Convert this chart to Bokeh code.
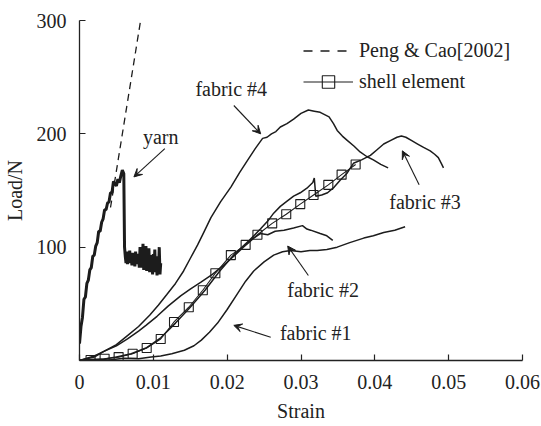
from bokeh.plotting import figure
from bokeh.models import (Range1d, FixedTicker, Legend, LegendItem, Label, Arrow, VeeHead)
from bokeh.embed import file_html
from bokeh.resources import INLINE

# ---------------- data ----------------
x_ticks = [0, 0.01, 0.02, 0.03, 0.04, 0.05, 0.06]
x_tick_labels = ["0", "0.01", "0.02", "0.03", "0.04", "0.05", "0.06"]
y_ticks = [100, 200, 300]
y_tick_labels = ["100", "200", "300"]

peng_strain = [0.0042, 0.0083]
peng_load = [135, 301]

yarn_strain = [0.0000, 0.0002, 0.0004, 0.0006, 0.0008, 0.0010, 0.0012, 0.0014, 0.0016, 0.0018,
               0.0020, 0.0022, 0.0024, 0.0026, 0.0028, 0.0030, 0.0032, 0.0034, 0.0036, 0.0038,
               0.0040, 0.0042, 0.0044, 0.0046, 0.0048, 0.0050, 0.0052, 0.0054, 0.0056, 0.0058,
               0.0060, 0.0061,
               0.0062, 0.0063, 0.0064, 0.0065, 0.0066, 0.0067, 0.0068, 0.0069, 0.0070, 0.0071,
               0.0072, 0.0073, 0.0074, 0.0075, 0.0076, 0.0077, 0.0078, 0.0079, 0.0080, 0.0081,
               0.0082, 0.0083, 0.0084, 0.0085, 0.0086, 0.0087, 0.0088, 0.0089, 0.0090, 0.0091,
               0.0092, 0.0093, 0.0094, 0.0095, 0.0096, 0.0097, 0.0098, 0.0099, 0.0100, 0.0101,
               0.0102, 0.0103, 0.0104, 0.0105, 0.0106, 0.0107, 0.0108, 0.0109, 0.0110]
yarn_load = [15, 30, 38, 54, 56, 68, 71, 80, 82, 92,
             93, 101, 104, 114, 114, 122, 125, 133, 133, 139,
             140, 148, 148, 158, 156, 154, 160, 157, 163, 168,
             165, 100,
             92, 86, 96, 85, 94, 88, 97, 86, 93, 84,
             95, 87, 92, 83, 96, 86, 94, 85, 91, 82,
             100, 82, 98, 85, 103, 80, 97, 84, 101, 79,
             95, 82, 99, 78, 93, 84, 91, 76, 94, 80,
             98, 78, 90, 75, 92, 77, 100, 76, 86]

f1_strain = [0, 0.002, 0.004, 0.006, 0.008, 0.0097, 0.011, 0.0125, 0.0142, 0.0155, 0.0165,
             0.0176, 0.0187, 0.02, 0.0214, 0.0225, 0.0236, 0.025, 0.0263, 0.0275, 0.0286, 0.03,
             0.0312, 0.0322, 0.0335, 0.0349, 0.0366, 0.0385, 0.0398, 0.0412, 0.0427, 0.0441]
f1_load = [0, 1, 0.5, 2, 1.5, 3, 4, 6, 9, 13, 18,
           25, 33, 45, 59, 70, 79, 87, 93, 96, 97, 96,
           97, 97, 98, 100, 104, 108, 110, 113, 115, 118]

f2_strain = [0, 0.002, 0.0033, 0.005, 0.0065, 0.008, 0.009, 0.0105, 0.012, 0.0137, 0.015,
             0.0164, 0.018, 0.0195, 0.0209, 0.0222, 0.0236, 0.0245, 0.0255, 0.0265, 0.0277,
             0.029, 0.0302, 0.0308, 0.0313, 0.0326, 0.0335, 0.0343]
f2_load = [0, 3, 8, 13, 19, 26, 31, 39, 48, 57, 63,
           69, 76, 84, 92, 100, 108, 112, 111, 114, 115,
           117, 119, 116, 115, 112, 110, 106]

f3_strain = [0, 0.003, 0.005, 0.007, 0.009, 0.011, 0.013, 0.015, 0.017, 0.019, 0.021, 0.023,
             0.0245, 0.0255, 0.0263, 0.0272, 0.0282, 0.029, 0.0299, 0.0308, 0.0316, 0.0318,
             0.032, 0.0328, 0.0336, 0.0345, 0.0353, 0.0362, 0.0371, 0.0382, 0.0394, 0.0403,
             0.0412, 0.0421, 0.043, 0.0436, 0.0442, 0.045, 0.0458, 0.0466, 0.0475, 0.0481,
             0.0486, 0.049, 0.0493]
f3_load = [0, 1, 3, 6, 11, 20, 33, 47, 62, 79, 94, 106,
           116, 123, 130, 136, 141, 145, 148, 152, 157, 161,
           145, 146, 148, 153, 159, 165, 174, 177, 181, 186,
           191, 194, 197, 198, 197, 194, 191, 188, 185, 182,
           179, 174, 170]

f4_strain = [0, 0.002, 0.0033, 0.005, 0.0065, 0.008, 0.0095, 0.0107, 0.0118, 0.013, 0.0141,
             0.015, 0.016, 0.0169, 0.0178, 0.0191, 0.0205, 0.0217, 0.0228, 0.0238, 0.0248,
             0.0254, 0.026, 0.0266, 0.0272, 0.0281, 0.029, 0.03, 0.031, 0.0318, 0.0326,
             0.0332, 0.0338, 0.0344, 0.0349, 0.0356, 0.0363, 0.0372, 0.038, 0.0389, 0.0398,
             0.0408, 0.0418]
f4_load = [0, 4, 8, 14, 22, 30, 40, 49, 58, 68, 79,
           90, 102, 114, 126, 140, 153, 166, 177, 187, 196,
           197, 200, 202, 206, 209, 213, 218, 221, 220, 219,
           217, 215, 209, 203, 198, 194, 189, 184, 180, 177,
           173, 170]

shell_strain = [0, 0.0015, 0.0034, 0.0053, 0.0072, 0.0091, 0.011, 0.0128, 0.0148, 0.0167,
                0.0184, 0.0205, 0.0225, 0.0241, 0.0261, 0.028, 0.0299, 0.0317, 0.0337,
                0.0355, 0.0374]
shell_load = [0, 0.5, 1.5, 3, 6, 11, 19, 34, 47, 62,
              77, 93, 102, 111, 121, 129, 138, 146, 155,
              164, 173]

annotations = ["yarn", "fabric #4", "fabric #3", "fabric #2", "fabric #1"]

# ---------------- styling ----------------
FONT = "Liberation Serif"
FS = "20px"
INK = "#1c1c1c"

p = figure(width=541, height=426, x_range=Range1d(0, 0.06), y_range=Range1d(0, 300),
           output_backend="svg", toolbar_location=None,
           min_border_left=78, min_border_right=19, min_border_top=20, min_border_bottom=66)
p.outline_line_color = None
p.xgrid.visible = False
p.ygrid.visible = False
p.background_fill_color = "white"
p.border_fill_color = "white"

for ax in (p.xaxis[0], p.yaxis[0]):
    ax.axis_line_color = "#222222"
    ax.axis_line_width = 1.3
    ax.major_tick_in = 6
    ax.major_tick_out = 0
    ax.minor_tick_line_color = None
    ax.major_tick_line_color = "#222222"
    ax.major_tick_line_width = 1.2
    ax.major_label_text_font = FONT
    ax.major_label_text_font_size = FS
    ax.major_label_text_color = "#222222"
    ax.axis_label_text_font = FONT
    ax.axis_label_text_font_size = FS
    ax.axis_label_text_font_style = "normal"
    ax.axis_label_text_color = "#222222"

p.xaxis.ticker = FixedTicker(ticks=x_ticks)
p.xaxis.major_label_overrides = dict(zip(x_ticks, x_tick_labels))
p.xaxis.major_label_standoff = 14
p.xaxis.axis_label = "Strain"
p.xaxis.axis_label_standoff = 8

p.yaxis.ticker = FixedTicker(ticks=y_ticks)
p.yaxis.major_label_overrides = dict(zip(y_ticks, y_tick_labels))
p.yaxis.major_label_standoff = 13
p.yaxis.axis_label = "Load/N"
p.yaxis.axis_label_standoff = 8

# ---------------- curves ----------------
p.line(peng_strain, peng_load, line_color=INK, line_width=1.3, line_dash="7 5")
# legend-only stand-in (kept outside the visible ranges) with a longer dash pattern
dash_legend = p.line([-1, -0.9], [-10, -10], line_color=INK, line_width=1.3, line_dash="9 8")
p.line(yarn_strain, yarn_load, line_color=INK, line_width=3.0)
for xs, ys in ((f1_strain, f1_load), (f2_strain, f2_load), (f3_strain, f3_load), (f4_strain, f4_load)):
    p.line(xs, ys, line_color=INK, line_width=1.5)
shell_line = p.line(shell_strain, shell_load, line_color=INK, line_width=1.1)
shell_sq = p.scatter(shell_strain[1:], shell_load[1:], marker="square", size=9,
                     fill_color=None, line_color=INK, line_width=1.1)

# ---------------- legend ----------------
legend = Legend(items=[LegendItem(label="Peng & Cao[2002]", renderers=[dash_legend]),
                       LegendItem(label="shell element", renderers=[shell_line, shell_sq])],
                location=(224, 263), glyph_width=50, glyph_height=31, label_height=31,
                spacing=0, padding=0, margin=0, label_standoff=6,
                background_fill_alpha=0, border_line_color=None,
                label_text_font=FONT, label_text_font_size=FS, label_text_color="#222222")
p.add_layout(legend)

# ---------------- annotations ----------------
label_pos = [(0.0110, 197), (0.02055, 240), (0.0468, 140), (0.0330, 62), (0.0320, 24)]
arrow_pos = [((0.01156, 187), (0.00737, 162)),
             ((0.0209, 225), (0.02454, 200)),
             ((0.0460, 155), (0.04373, 185)),
             ((0.0310, 75), (0.0282, 101)),
             ((0.0259, 20.5), (0.0209, 31))]
for txt, (lx, ly), ((x0, y0), (x1, y1)) in zip(annotations, label_pos, arrow_pos):
    p.add_layout(Label(x=lx, y=ly, text=txt, text_font=FONT, text_font_size=FS,
                       text_align="center", text_baseline="middle", text_color="#222222"))
    p.add_layout(Arrow(x_start=x0, y_start=y0, x_end=x1, y_end=y1, line_color=INK, line_width=1.1,
                       end=VeeHead(size=8, fill_color=INK, line_color=INK, line_width=1)))

open("out.html", "w").write(file_html(p, INLINE))
